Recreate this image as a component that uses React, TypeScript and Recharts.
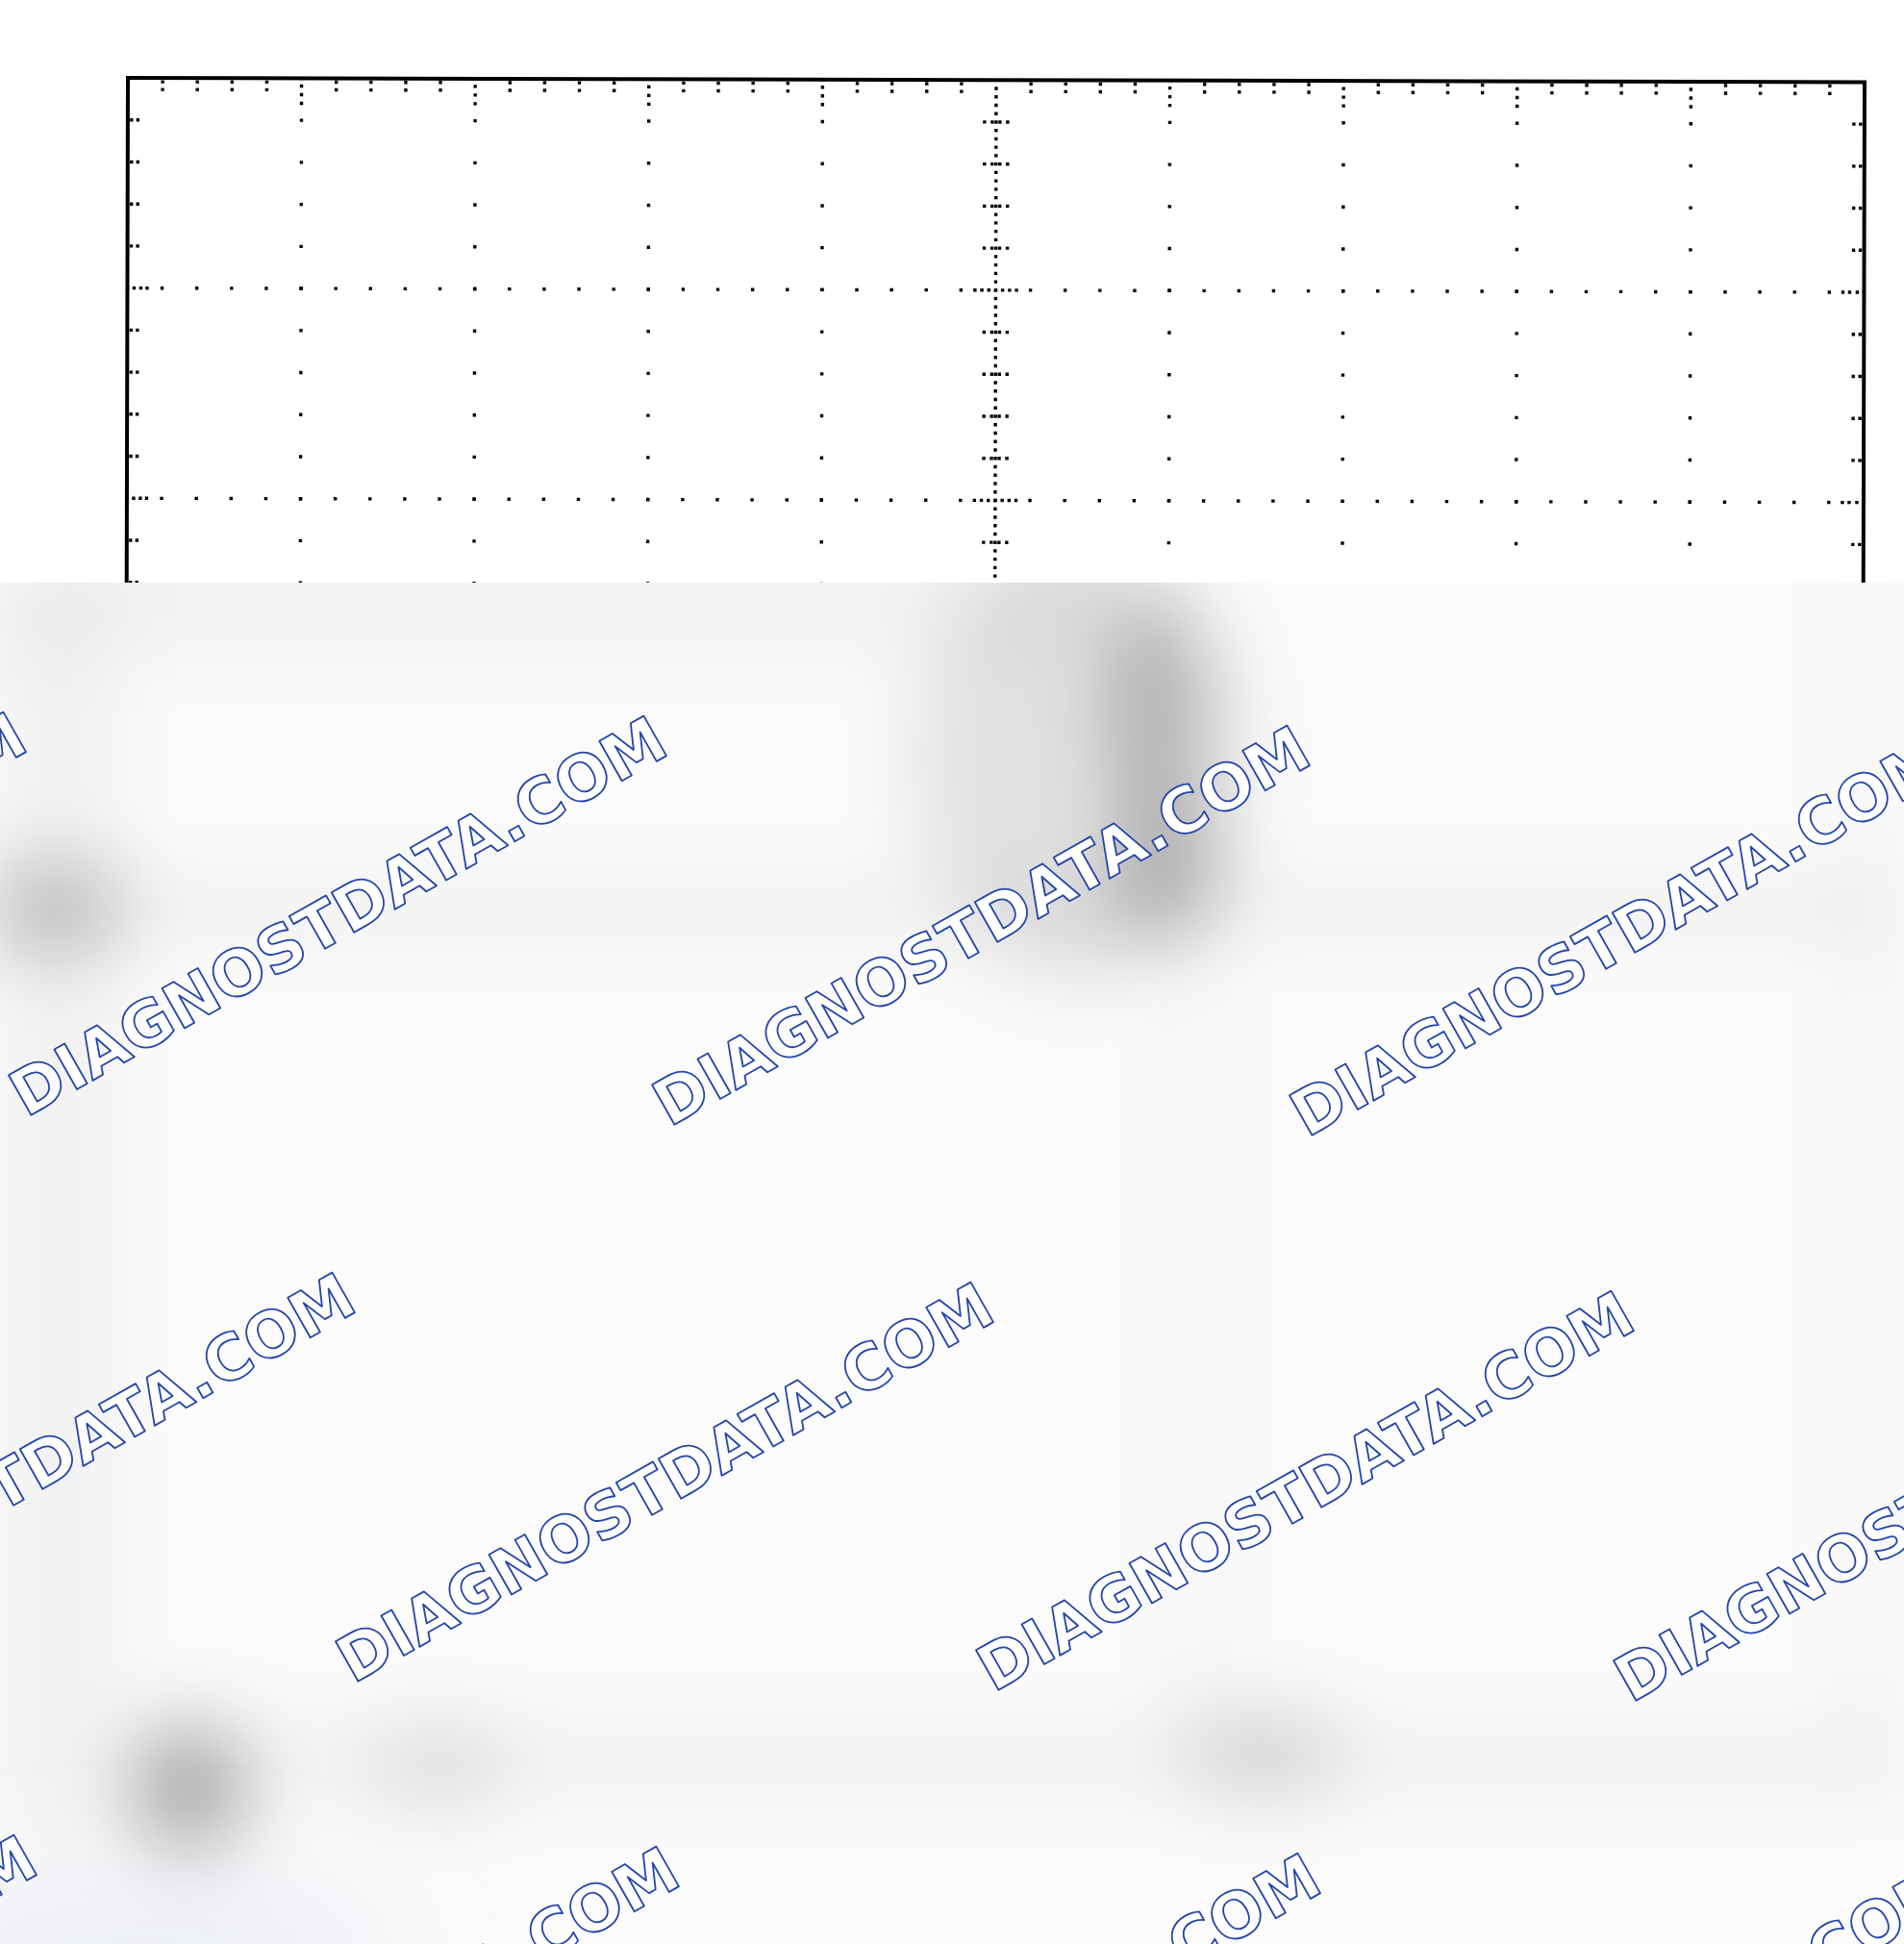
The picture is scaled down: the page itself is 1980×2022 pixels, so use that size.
import React from "react";
import { ScatterChart, Scatter, XAxis, YAxis, ReferenceLine, ReferenceArea } from "recharts";

// ---- graticule (screen divisions) ----
const xMajorDivisions = [-5, -4, -3, -2, -1, 0, 1, 2, 3, 4, 5];
const yMajorDivisions = [-4, -3, -2, -1, 0, 1, 2, 3, 4];
const minorSubdivisions = [0.2, 0.4, 0.6, 0.8];
const watermarkText = "DIAGNOSTDATA.COM";

const X_DOMAIN: [number, number] = [-5, 5];
const Y_DOMAIN: [number, number] = [-4, 4];

// ---- layout ----
const W = 1980;
const H = 2022;
const PLOT_LEFT = 133;
const PLOT_TOP = 81;
const PLOT_W = 1806;
const PLOT_H = 1749;
const MINOR_X_PX = PLOT_W / 50;
const MINOR_Y_PX = PLOT_H / 40;
const DOT = 3.4;
const BLUR_TOP = 606;

const round2 = (v: number) => Math.round(v * 100) / 100;
const xMinor = xMajorDivisions.slice(0, -1).flatMap((m) => minorSubdivisions.map((s) => round2(m + s)));
const yMinor = yMajorDivisions.slice(0, -1).flatMap((m) => minorSubdivisions.map((s) => round2(m + s)));
const xInner = xMajorDivisions.filter((v) => v > X_DOMAIN[0] && v < X_DOMAIN[1]);
const yInner = yMajorDivisions.filter((v) => v > Y_DOMAIN[0] && v < Y_DOMAIN[1]);
const xInnerNoCenter = xInner.filter((v) => v !== 0);
const yInnerNoCenter = yInner.filter((v) => v !== 0);

const topMinorPts = xMinor.map((x) => ({ x, y: Y_DOMAIN[1] }));
const topMajorPts = xInnerNoCenter.map((x) => ({ x, y: Y_DOMAIN[1] }));
const bottomMinorPts = xMinor.map((x) => ({ x, y: Y_DOMAIN[0] }));
const bottomMajorPts = xInnerNoCenter.map((x) => ({ x, y: Y_DOMAIN[0] }));
const leftMinorPts = yMinor.map((y) => ({ x: X_DOMAIN[0], y }));
const leftMajorPts = yInner.map((y) => ({ x: X_DOMAIN[0], y }));
const rightMinorPts = yMinor.map((y) => ({ x: X_DOMAIN[1], y }));
const rightMajorPts = yInner.map((y) => ({ x: X_DOMAIN[1], y }));
const centerVMinorPts = yMinor.map((y) => ({ x: 0, y }));
const centerVMajorPts = yInnerNoCenter.map((y) => ({ x: 0, y }));
const centerHMinorPts = xMinor.map((x) => ({ x, y: 0 }));

const dotsShape = (offsets: number[][]) => (props: any) => {
  const { cx, cy } = props;
  if (cx == null || cy == null) return <g />;
  return (
    <g>
      {offsets.map(([dx, dy], i) => (
        <rect key={i} x={cx + dx - DOT / 2} y={cy + dy - DOT / 2} width={DOT} height={DOT} fill="#000" />
      ))}
    </g>
  );
};

const TOP_MINOR = [[0, 4], [0, 12]];
const TOP_MAJOR = [[0, 8], [0, 17], [0, 26]];
const BOTTOM_MINOR = [[0, -4], [0, -12]];
const BOTTOM_MAJOR = [[0, -8], [0, -17], [0, -26]];
const LEFT_MINOR = [[4, 0], [10.5, 0]];
const LEFT_MAJOR = [[7, 0], [14, 0], [20.5, 0]];
const RIGHT_MINOR = [[-11, 0], [-4, 0]];
const RIGHT_MAJOR = [[-22, 0], [-15, 0], [-7, 0]];
const CV_MINOR = [[-12, 0], [-4, 0], [4, 0], [12, 0]];
const CV_MAJOR = [[-21.6, 0], [-14.4, 0], [-7.2, 0], [7.2, 0], [14.4, 0], [21.6, 0]];
const CH_MINOR = [[0, -12], [0, -4], [0, 4], [0, 12]];

// ---- obscured lower region (decoration) ----
const hazeEllipses = [
  [1120, 790, 170, 230, 0.1],
  [1200, 740, 50, 120, 0.22],
  [1212, 905, 55, 75, 0.22],
  [55, 945, 75, 50, 0.2],
  [196, 1860, 60, 70, 0.32],
  [455, 1838, 75, 45, 0.09],
  [1313, 1823, 85, 45, 0.13],
];
const hazeRects = [
  [0, 925, 1980, 40, 0.065],
  [0, 600, 120, 1300, 0.04],
  [0, 560, 1150, 120, 0.035],
  [1220, 1000, 45, 800, 0.03],
  [250, 1805, 1730, 50, 0.055],
  [1926, 600, 24, 1240, 0.05],
];
const watermarkCenters = [
  [-315, 948], [351, 952], [1020, 962], [1683, 973],
  [27, 1531], [691, 1541], [1357, 1550], [2020, 1561],
  [-304, 2116], [364, 2128], [1031, 2135], [1696, 2144],
];

function Haze() {
  const h = H - BLUR_TOP;
  return (
    <svg width={W} height={h} style={{ position: "absolute", left: 0, top: BLUR_TOP }}>
      <defs>
        <filter id="soft" filterUnits="userSpaceOnUse" x={-300} y={-300} width={2600} height={2100}>
          <feGaussianBlur stdDeviation={40} />
        </filter>
        <filter id="softer" filterUnits="userSpaceOnUse" x={-300} y={-300} width={2600} height={2100}>
          <feGaussianBlur stdDeviation={60} />
        </filter>
      </defs>
      <rect x={0} y={0} width={W} height={h} fill="#fbfbfb" />
      <g filter="url(#soft)">
        {hazeRects.map(([x, y, w, hh, a], i) => (
          <rect key={"r" + i} x={x} y={y - BLUR_TOP} width={w} height={hh} fill="#000" fillOpacity={a} />
        ))}
        {hazeEllipses.map(([cx, cy, rx, ry, a], i) => (
          <ellipse key={"e" + i} cx={cx} cy={cy - BLUR_TOP} rx={rx} ry={ry} fill="#000" fillOpacity={a} />
        ))}
      </g>
      <g filter="url(#softer)">
        <ellipse cx={150} cy={2030 - BLUR_TOP} rx={260} ry={70} fill="#c4cce6" fillOpacity={0.3} />
      </g>
      {watermarkCenters.map(([cx, cy], i) => (
        <text
          key={i}
          transform={`translate(${cx} ${cy - BLUR_TOP}) rotate(-29.5)`}
          x={0}
          y={24}
          textAnchor="middle"
          fontFamily="'DejaVu Sans', Verdana, sans-serif"
          fontWeight="bold"
          fontSize={65.5}
          style={{ fontWeight: 700 }}
          fill="#ffffff"
          stroke="#2445aa"
          strokeWidth={1.8}
          strokeLinejoin="round"
        >
          {watermarkText}
        </text>
      ))}
    </svg>
  );
}

export default function App() {
  return (
    <div style={{ position: "absolute", left: 0, top: 0, width: W, height: H, overflow: "hidden", background: "#fff" }}>
      <div style={{ position: "absolute", left: 0, top: 0, transform: "rotate(0.14deg)", transformOrigin: `${PLOT_LEFT}px ${PLOT_TOP}px` }}>
        <ScatterChart
          width={W}
          height={H}
          margin={{ top: PLOT_TOP, left: PLOT_LEFT, right: W - PLOT_LEFT - PLOT_W, bottom: H - PLOT_TOP - PLOT_H }}
        >
          <XAxis type="number" dataKey="x" domain={X_DOMAIN} hide allowDataOverflow height={0} />
          <YAxis type="number" dataKey="y" domain={Y_DOMAIN} hide allowDataOverflow width={0} />
          <ReferenceArea x1={X_DOMAIN[0]} x2={X_DOMAIN[1]} y1={Y_DOMAIN[0]} y2={Y_DOMAIN[1]} fill="none" fillOpacity={0} stroke="#000" strokeWidth={4} />
          {xInnerNoCenter.map((x) => (
            <ReferenceLine key={"vx" + x} x={x} stroke="#000" strokeWidth={DOT} strokeDasharray={`${DOT} ${MINOR_Y_PX - DOT}`} strokeDashoffset={DOT / 2} />
          ))}
          {yInnerNoCenter.map((y) => (
            <ReferenceLine key={"hy" + y} y={y} stroke="#000" strokeWidth={DOT} strokeDasharray={`${DOT} ${MINOR_X_PX - DOT}`} strokeDashoffset={DOT / 2} />
          ))}
          <ReferenceLine x={0} stroke="#000" strokeWidth={DOT} strokeDasharray={`${DOT} ${MINOR_Y_PX / 5 - DOT}`} strokeDashoffset={DOT / 2} />
          <ReferenceLine y={0} stroke="#000" strokeWidth={DOT} strokeDasharray={`${DOT} ${MINOR_X_PX / 5 - DOT}`} strokeDashoffset={DOT / 2} />
          <Scatter data={topMinorPts} shape={dotsShape(TOP_MINOR)} isAnimationActive={false} />
          <Scatter data={topMajorPts} shape={dotsShape(TOP_MAJOR)} isAnimationActive={false} />
          <Scatter data={bottomMinorPts} shape={dotsShape(BOTTOM_MINOR)} isAnimationActive={false} />
          <Scatter data={bottomMajorPts} shape={dotsShape(BOTTOM_MAJOR)} isAnimationActive={false} />
          <Scatter data={leftMinorPts} shape={dotsShape(LEFT_MINOR)} isAnimationActive={false} />
          <Scatter data={leftMajorPts} shape={dotsShape(LEFT_MAJOR)} isAnimationActive={false} />
          <Scatter data={rightMinorPts} shape={dotsShape(RIGHT_MINOR)} isAnimationActive={false} />
          <Scatter data={rightMajorPts} shape={dotsShape(RIGHT_MAJOR)} isAnimationActive={false} />
          <Scatter data={centerVMinorPts} shape={dotsShape(CV_MINOR)} isAnimationActive={false} />
          <Scatter data={centerVMajorPts} shape={dotsShape(CV_MAJOR)} isAnimationActive={false} />
          <Scatter data={centerHMinorPts} shape={dotsShape(CH_MINOR)} isAnimationActive={false} />
        </ScatterChart>
      </div>
      <Haze />
    </div>
  );
}
